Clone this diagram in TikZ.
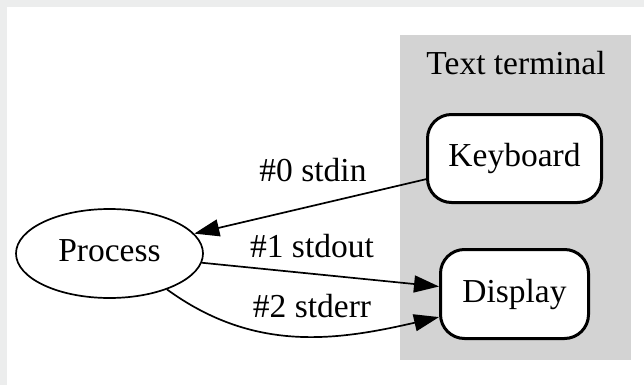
\documentclass[tikz,border=0pt]{standalone}
\usepackage{fontspec}
\setmainfont{Liberation Serif}
\usepackage{tikz}
\usetikzlibrary{arrows.meta,shapes,positioning,backgrounds}
\definecolor{tmgray}{RGB}{211,211,211}
\definecolor{framegray}{RGB}{236,237,237}
\tikzstyle{arrow} = [line width=1.7pt,-{Triangle[length=25pt,width=17pt]}]
\tikzstyle{device} = [draw, line width=3pt, rounded corners=24pt, fill=white, font=\fontsize{33.5}{40}\selectfont]
\tikzstyle{procnode} = [draw, ellipse, line width=1.7pt, inner sep=0pt, fill=white, text depth=6pt, font=\fontsize{33.5}{40}\selectfont]
\tikzstyle{lbl} = [anchor=base, inner sep=0pt, font=\fontsize{33.5}{40}\selectfont]

\begin{document}
\begin{tikzpicture}[x=1pt,y=-1pt]
\useasboundingbox (0,0) rectangle (644,385);
% Frame
\fill[framegray] (0,0) rectangle (644,385);
\fill[white] (7,7) rectangle (644,385);

% Text terminal cluster
\fill[tmgray] (400,35) rectangle (631,360);
\node[lbl] (tmlabel) at (516,75) {Text terminal};

% Nodes
\node[device, minimum width=174pt, minimum height=88pt] (kbd) at (514.5,158.5) {Keyboard};
\node[device, minimum width=148pt, minimum height=89pt] (disp) at (514.5,294) {Display};
\node[procnode, minimum width=187pt, minimum height=89pt] (process) at (109.5,253.5) {Process};

% Streams
\draw[arrow] (kbd) -- (process);
\draw[arrow] (process) -- (disp);
\draw[arrow] (process.-32) to[out=-36,in=193] (disp.197);

% Labels
\node[lbl] (in0) at (313,181) {\#0 stdin};
\node[lbl] (out1) at (312,257) {\#1 stdout};
\node[lbl] (err2) at (312,317) {\#2 stderr};
\end{tikzpicture}
\end{document}
